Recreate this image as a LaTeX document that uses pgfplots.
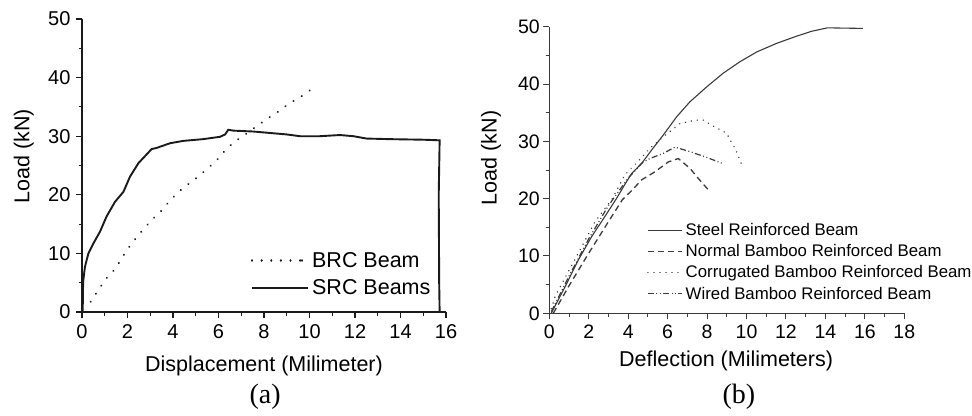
\documentclass[border=0pt]{standalone}
\usepackage{pgfplots}
\pgfplotsset{compat=1.18}
\usepackage{fontspec}
\setmainfont{Liberation Sans}
\newfontfamily\seriffont{Liberation Serif}
\definecolor{ink}{HTML}{1A1A1A}
\definecolor{inkb}{HTML}{3A3A3A}
\begin{document}
\begin{tikzpicture}[x=1bp,y=1bp]
\useasboundingbox (0,0) rectangle (972,415);
% ---------------- panel (a)
\begin{axis}[
  at={(82bp,103bp)}, anchor=south west,
  scale only axis, width=364bp, height=293bp,
  xmin=0, xmax=16, ymin=0, ymax=50,
  axis lines=left, axis line style={-, ink, line width=1.3bp},
  xtick={0,2,...,16}, ytick={0,10,...,50},
  minor xtick={1,3,...,15}, minor ytick={5,15,...,45},
  tick align=outside,
  major tick length=6bp, minor tick length=3.5bp,
  tick style={ink, line width=1.1bp},
  /pgf/number format/assume math mode=true,
  tick label style={font=\fontsize{20bp}{22bp}\selectfont},
  xticklabel style={yshift=-3bp},
  yticklabel style={xshift=-2bp},
  xlabel={Displacement (Milimeter)},
  ylabel={Load (kN)},
  label style={font=\fontsize{21.5bp}{23bp}\selectfont},
  x label style={at={(axis description cs:0.5,-0.185)}, anchor=center},
  y label style={at={(axis description cs:-0.16,0.532)}, anchor=center, rotate=0},
  clip=false,
  legend style={draw=none, fill=none, at={(axis description cs:0.966,0.215)}, anchor=north east,
    font=\fontsize{21.5bp}{23bp}\selectfont, row sep=5bp, inner sep=0pt,
    nodes={inner sep=3bp}},
  legend cell align=left,
  legend image code/.code={\draw[#1] (0bp,0bp) -- (50bp,0bp); \path (50bp,0bp) -- (56bp,0bp);},
]
\addplot[ink, line width=2.2bp, line cap=round, dash pattern=on 0.01bp off 9.6bp] coordinates {
(0.38,1.76) (0.72,3.75) (1.04,5.6) (1.45,7.3) (1.96,10.5) (2.33,12.4) (2.67,14.0)
(3.06,15.7) (3.5,17.3) (3.84,18.9) (4.24,20.5) (4.7,21.9) (5.11,23.1) (5.55,24.6)
(6.0,26.2) (6.36,27.9) (6.8,29.3) (7.24,30.5) (7.68,31.7) (8.15,33.0) (8.63,34.2)
(9.11,35.6) (9.61,36.7) (10.12,38.1)
};
\addlegendentry{BRC Beam}
\addplot[ink, line width=1.9bp] coordinates {
(0.03,0) (0.05,5.2) (0.13,7.7) (0.28,10.0) (0.5,11.7) (0.79,13.7) (1.08,16.3)
(1.45,18.8) (1.82,20.5) (2.11,23.1) (2.48,25.4) (3.06,27.8) (3.28,28.0) (3.87,28.8)
(4.45,29.2) (5.33,29.5) (6.07,29.9) (6.29,30.3) (6.43,31.1) (6.65,30.95) (7.53,30.8)
(8.41,30.5) (9.0,30.3) (9.58,30.0) (10.46,30.0) (11.34,30.2) (11.93,30.0) (12.5,29.6)
(13.5,29.5) (15.0,29.4) (15.72,29.3) (15.68,20) (15.7,5) (15.72,0)
};
\addlegendentry{SRC Beams}
\node[font=\seriffont\fontsize{28bp}{30bp}\selectfont] at (axis description cs:0.503,-0.29) {(a)};
\end{axis}
% ---------------- panel (b)
\begin{axis}[
  at={(549.3bp,101.7bp)}, anchor=south west,
  scale only axis, width=355bp, height=286.6bp,
  xmin=0, xmax=18, ymin=0, ymax=50,
  axis lines=left, axis line style={-, inkb, line width=1.1bp},
  xtick={0,2,...,18}, ytick={0,10,...,50},
  minor xtick={1,3,...,17}, minor ytick={5,15,...,45},
  tick align=outside,
  major tick length=6bp, minor tick length=3.5bp,
  tick style={inkb, line width=1bp},
  /pgf/number format/assume math mode=true,
  tick label style={font=\fontsize{19.5bp}{21bp}\selectfont},
  xticklabel style={yshift=-2bp},
  xlabel={Deflection (Milimeters)},
  ylabel={Load (kN)},
  label style={font=\fontsize{21.5bp}{23bp}\selectfont},
  x label style={at={(axis description cs:0.498,-0.166)}, anchor=center},
  y label style={at={(axis description cs:-0.164,0.542)}, anchor=center, rotate=0},
  clip=false,
  legend style={draw=none, fill=none, at={(axis description cs:0.275,0.325)}, anchor=north west,
    font=\fontsize{16.8bp}{18bp}\selectfont, row sep=1.5bp, inner sep=0pt,
    nodes={inner sep=3bp}},
  legend cell align=left,
  legend image code/.code={\draw[#1] (0bp,0bp) -- (30bp,0bp); \path (30bp,0bp) -- (34bp,0bp);},
]
\addplot[inkb, line width=1.1bp] coordinates {
(0.1,0) (0.8,4.65) (1.47,9.3) (2.15,13.4) (2.82,16.9) (3.42,20.1) (3.92,23.0)
(4.18,24.4) (4.69,26.2) (5.19,28.5) (5.78,31.1) (6.46,34.3) (7.13,36.9) (7.98,39.5)
(8.82,41.9) (9.67,43.9) (10.52,45.6) (11.53,47.1) (12.5,48.3) (13.3,49.2) (14.1,49.8)
(15.9,49.7)
};
\addlegendentry{Steel Reinforced Beam}
\addplot[inkb, line width=1.3bp, dash pattern=on 6bp off 4bp] coordinates {
(0.2,0) (1,4.8) (2,10.5) (3,16.0) (3.7,19.8) (4.2,21.5) (4.69,23.3) (5.36,24.7)
(6.03,26.4) (6.54,27.0) (7.13,25.3) (7.56,23.5) (8.15,21.2)
};
\addlegendentry{Normal Bamboo Reinforced Beam}
\addplot[inkb, line width=1.6bp, line cap=round, dash pattern=on 0.01bp off 6bp] coordinates {
(0.1,0.8) (0.29,2.9) (1,7.5) (1.47,10.5) (2.32,16.0) (3.16,19.8) (3.84,24.2) (4.5,26.5)
(5.1,28.8) (5.78,30.8) (6.63,33.1) (7.39,33.7) (7.81,33.7) (8.24,32.8) (9.0,31.4)
(9.17,30.2) (9.42,28.8) (9.76,25.9)
};
\addlegendentry{Corrugated Bamboo Reinforced Beam}
\addplot[inkb, line width=1.2bp, dash pattern=on 6bp off 2.5bp on 1bp off 2.5bp on 1bp off 2.5bp] coordinates {
(0.1,0.3) (1,6.5) (2,13.0) (3,18.8) (4,23.6) (4.73,26.3) (5.1,27.0) (5.78,27.9)
(6.37,29.0) (7.13,28.2) (7.9,27.3) (8.74,26.2)
};
\addlegendentry{Wired Bamboo Reinforced Beam}
\node[font=\seriffont\fontsize{28bp}{30bp}\selectfont] at (axis description cs:0.534,-0.29) {(b)};
\end{axis}
\end{tikzpicture}
\end{document}
